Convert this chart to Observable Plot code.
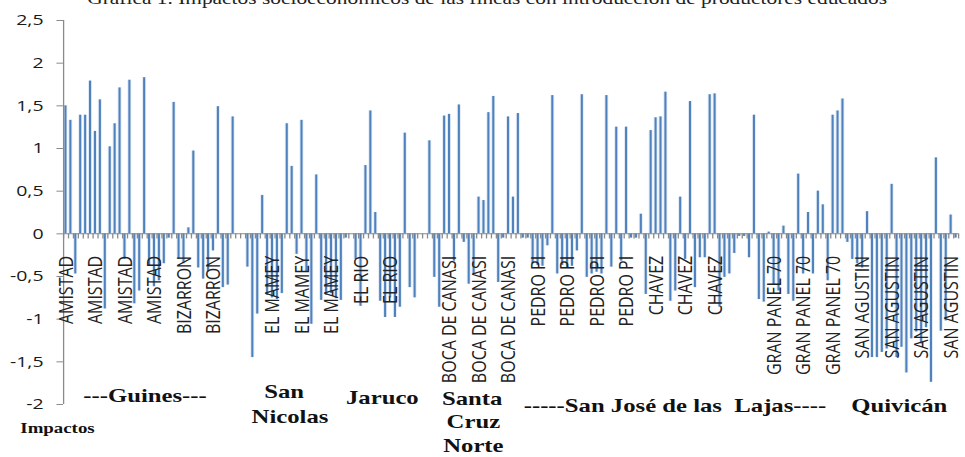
<!DOCTYPE html>
<html>
<head>
<meta charset="utf-8">
<script src="https://cdn.jsdelivr.net/npm/d3@7"></script>
<script src="https://cdn.jsdelivr.net/npm/@observablehq/plot@0.6"></script>
<style>
  html, body { margin: 0; padding: 0; background: #fff; overflow: hidden; }
  #chart { width: 965px; height: 457px; position: relative; }
</style>
</head>
<body>
<div id="chart"></div>
<script>
// ---- data ----
const farmNames = ["AMISTAD", "BIZARRON", "", "EL MAMEY", "EL RIO", "", "BOCA DE CANASI", "PEDRO PI", "CHAVEZ", "", "GRAN PANEL 70", "SAN AGUSTIN"];
const amistad = [1.50, 1.33, -0.47, 1.39, 1.39, 1.79, 1.20, 1.57, -0.88, 1.02, 1.29, 1.71, -0.30, 1.80, -0.82, -0.67, 1.83, -0.38, -0.62, -0.55, -0.35, -0.05, 1.54, -0.30];
const bizarron = [-0.35, 0.07, 0.97, -0.40, -0.53, -0.45, -0.20, 1.49, -0.63, -0.60, 1.37, 0];
const blank1 = [0, -0.39, -1.45, -0.94, 0.45, -0.72];
const elMamey = [-0.75, -0.77, -0.70, 1.29, 0.79, -0.24, 1.33, -0.45, -1.06, 0.69, -0.78, -0.72, -0.70, -0.76, -0.78, -0.05, 0, -0.30];
const elRio = [-0.85, 0.80, 1.44, 0.25, -0.79, -0.98, -0.75, -0.98, -0.86, 1.18, -0.63, -0.75];
const blank2 = [0, 0, 1.09, -0.51, -0.86, 1.38];
const bocaDeCanasi = [1.40, -0.32, 1.51, -0.10, -0.59, -0.47, 0.43, 0.39, 1.42, 1.61, -0.57, -0.05, 1.37, 0.43, 1.41, -0.05, -0.05, -0.35];
const pedroPi = [-0.37, -0.38, -0.14, 1.62, -0.47, -0.37, -0.40, -0.38, -0.20, 1.63, -0.51, -0.47, -0.45, -0.47, 1.62, -0.39, 1.25, -0.32, 1.25, -0.05, -0.05, 0.23, -0.71, 1.21];
const chavez = [1.36, 1.37, 1.66, -0.79, -0.67, 0.43, -0.30, 1.55, -0.63, -0.28, -0.28, 1.63, 1.64, -0.86, -0.51, -0.47, -0.23, -0.03];
const blank3 = [-0.03, -0.28, 1.39, -0.77, -0.80, 0.02];
const granPanel = [-0.60, -0.67, 0.09, -0.71, -0.79, 0.70, -0.47, 0.25, -0.47, 0.50, 0.34, -0.55, 1.39, 1.44, 1.58, -0.10, -0.30, -0.35];
const sanAgustin = [-0.40, 0.26, -1.45, -1.45, -1.39, -1.35, 0.58, -1.45, -1.33, -1.63, -1.23, -1.15, -1.29, -1.10, -1.74, 0.89, -1.14, -1.02, 0.22, -0.05];
const farmValues = [amistad, bizarron, blank1, elMamey, elRio, blank2, bocaDeCanasi, pedroPi, chavez, blank3, granPanel, sanAgustin];

const yTicks = [-2, -1.5, -1, -0.5, 0, 0.5, 1, 1.5, 2, 2.5];
const labelEvery = 6;

const regionLabels = ["---Guines---", "San", "Nicolas", "Jaruco", "Santa", "Cruz", "Norte", "-----San José de las  Lajas----", "Quivicán"];
const axisTitle = "Impactos";
const chartTitle = "Gráfica 1. Impactos socioeconómicos de las fincas con introducción de productores educados";

// ---- build table ----
const data = [];
farmValues.forEach((arr, f) => arr.forEach(v => data.push({i: data.length, v, name: farmNames[f]})));
const N = data.length;
const tickLabels = data.filter(d => d.i % labelEvery === 0 && d.name !== "");

// ---- layout (inner width is stretched horizontally like the reference) ----
const W = 742, S = 965 / W;
const sans = "'Open Sans', 'Liberation Sans', sans-serif";
const serif = "'Liberation Serif', 'Times New Roman', serif";
const grey = "#8a8a8a";

const chart = Plot.plot({
  width: W,
  height: 457,
  marginLeft: 48.4,
  marginRight: 5.4,
  marginTop: 20,
  marginBottom: 53,
  style: {fontFamily: sans, background: "#fff", overflow: "visible"},
  x: {type: "linear", domain: [0, N], axis: null},
  y: {domain: [-2, 2.5], axis: null, label: null},
  marks: [
    Plot.rect(data, {x1: d => d.i + 0.1, x2: d => d.i + 0.9, y1: 0, y2: "v", fill: "#c9d8ec", fillOpacity: 0.55}),
    Plot.rect(data, {x1: d => d.i + 0.3, x2: d => d.i + 0.72, y1: 0, y2: "v", fill: "#4f81bd"}),
    Plot.ruleY([0], {stroke: grey}),
    Plot.ruleX(d3.range(N + 1), {y1: 0, y2: -0.06, stroke: grey}),
    Plot.ruleX([0], {stroke: grey}),
    Plot.axisY({ticks: yTicks, tickFormat: d => String(d).replace(".", ","), tickSize: 5, tickPadding: 10.4,
      label: null, stroke: grey, fill: "#1a1a1a", fontSize: 15, fontFamily: sans}),
    Plot.text(tickLabels, {x: d => d.i + 0.5, y: 0, text: "name", rotate: -90, textAnchor: "end", dy: 22,
      fontSize: 16, fontFamily: sans, fill: "#222"})
  ]
});

chart.style.transform = `scaleX(${S})`;
chart.style.transformOrigin = "0 0";
chart.style.maxWidth = "none";

// ---- annotations: region names below the axis, axis title, clipped chart title ----
const svg = d3.select(chart);
const regionPos = [
  [111.5, 402], [218.5, 398], [223, 423], [294, 404], [363, 405], [364, 428], [364, 452], [519, 412], [691.5, 412]
];
svg.append("g")
  .attr("font-family", serif).attr("font-weight", "bold").attr("font-size", 19).attr("fill", "#111")
  .attr("text-anchor", "middle")
  .selectAll("text").data(regionLabels).join("text")
  .attr("x", (d, k) => regionPos[k][0]).attr("y", (d, k) => regionPos[k][1])
  .text(d => d);
svg.append("text")
  .attr("x", 44.2).attr("y", 433).attr("text-anchor", "middle")
  .attr("font-family", serif).attr("font-weight", "bold").attr("font-size", 14.5).attr("fill", "#111")
  .text(axisTitle);
svg.append("text")
  .attr("x", 374.6).attr("y", 4).attr("text-anchor", "middle")
  .attr("font-family", serif).attr("font-size", 17).attr("fill", "#222")
  .attr("textLength", 615).attr("lengthAdjust", "spacingAndGlyphs")
  .text(chartTitle);

document.getElementById("chart").appendChild(chart);
</script>
</body>
</html>
